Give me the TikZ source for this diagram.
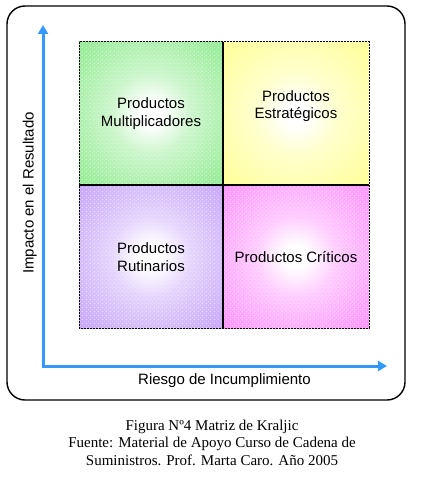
\documentclass[tikz,border=0pt]{standalone}
\usepackage{fontspec}
\setmainfont{Liberation Serif}
\newfontfamily\arialf{Liberation Sans}
\usetikzlibrary{arrows.meta,patterns}
\definecolor{greenQ}{RGB}{140,234,140}
\definecolor{yellowQ}{RGB}{255,255,140}
\definecolor{purpleQ}{RGB}{196,160,250}
\definecolor{pinkQ}{RGB}{255,140,255}
\definecolor{axisblue}{RGB}{51,153,255}
\pgfdeclareradialshading[qout]{qshade}{\pgfpoint{0bp}{0bp}}{color(0bp)=(white); color(4bp)=(white); color(14bp)=(white!55!qout); color(38bp)=(qout); color(50bp)=(qout)}
\pgfdeclarepatternformonly{kdots}{\pgfpointorigin}{\pgfpoint{4pt}{4pt}}{\pgfpoint{4pt}{4pt}}{%
  \pgfpathcircle{\pgfpoint{1pt}{1pt}}{0.55pt}%
  \pgfpathcircle{\pgfpoint{3pt}{3pt}}{0.55pt}%
  \pgfusepath{fill}}
\tikzset{
  qtext/.style={font=\arialf\fontsize{15}{18}\selectfont, anchor=base, inner sep=0pt},
  captext/.style={font=\fontsize{15}{18}\selectfont, anchor=base, inner sep=0pt},
  axis/.style={draw=axisblue, line width=3pt, line join=miter,
    {Triangle[length=9pt,width=10pt]}-{Triangle[length=9pt,width=10pt]}},
  dotsfill/.style={pattern=kdots, pattern color=white, fill opacity=0.7},
}
\begin{document}
\begin{tikzpicture}[x=1pt,y=-1pt]
\useasboundingbox (0,0) rectangle (421,478);
% outer frame
\draw[line width=1.4pt, rounded corners=18pt] (7,6) rectangle (405,400);
% quadrants
\begin{scope}
\colorlet{qout}{greenQ}
\shade[shading=qshade] (79,42) rectangle (223,185);
\colorlet{qout}{yellowQ}
\shade[shading=qshade] (223,42) rectangle (369,185);
\colorlet{qout}{purpleQ}
\shade[shading=qshade] (79,185) rectangle (223,328);
\colorlet{qout}{pinkQ}
\shade[shading=qshade] (223,185) rectangle (369,328);
\end{scope}
\fill[dotsfill] (79,42) rectangle (369,328);
\draw[line width=1pt, dash pattern=on 2pt off 1pt] (79,42) rectangle (369,328);
\draw[line width=1.2pt] (223,42) -- (223,328);
\draw[line width=1.2pt] (79,185) -- (369,185);
% quadrant labels
\node[qtext] (m1) at (151,109) {Productos};
\node[qtext] (m2) at (151,126.5) {Multiplicadores};
\node[qtext] (e1) at (296,101.5) {Productos};
\node[qtext] (e2) at (296,119) {Estratégicos};
\node[qtext] (r1) at (151,253.5) {Productos};
\node[qtext] (r2) at (151,271) {Rutinarios};
\node[qtext] (c1) at (296,262) {Productos Críticos};
% axes
\coordinate (O) at (43,366);
\coordinate (ytip) at (43,25);
\coordinate (xtip) at (387,366);
\draw[axis] (ytip) -- (O) -- (xtip);
\node[qtext] (xlab) at (224.5,384) {Riesgo de Incumplimiento};
\node[qtext, rotate=90] (ylab) at (33.5,193) {Impacto en el Resultado};
% caption
\node[captext] (cap1) at (212,430) {Figura Nº4 Matriz de Kraljic};
\node[captext] (cap2) at (212,447.5) {Fuente: Material de Apoyo Curso de Cadena de};
\node[captext] (cap3) at (212,465) {Suministros. Prof. Marta Caro. Año 2005};
\end{tikzpicture}
\end{document}
